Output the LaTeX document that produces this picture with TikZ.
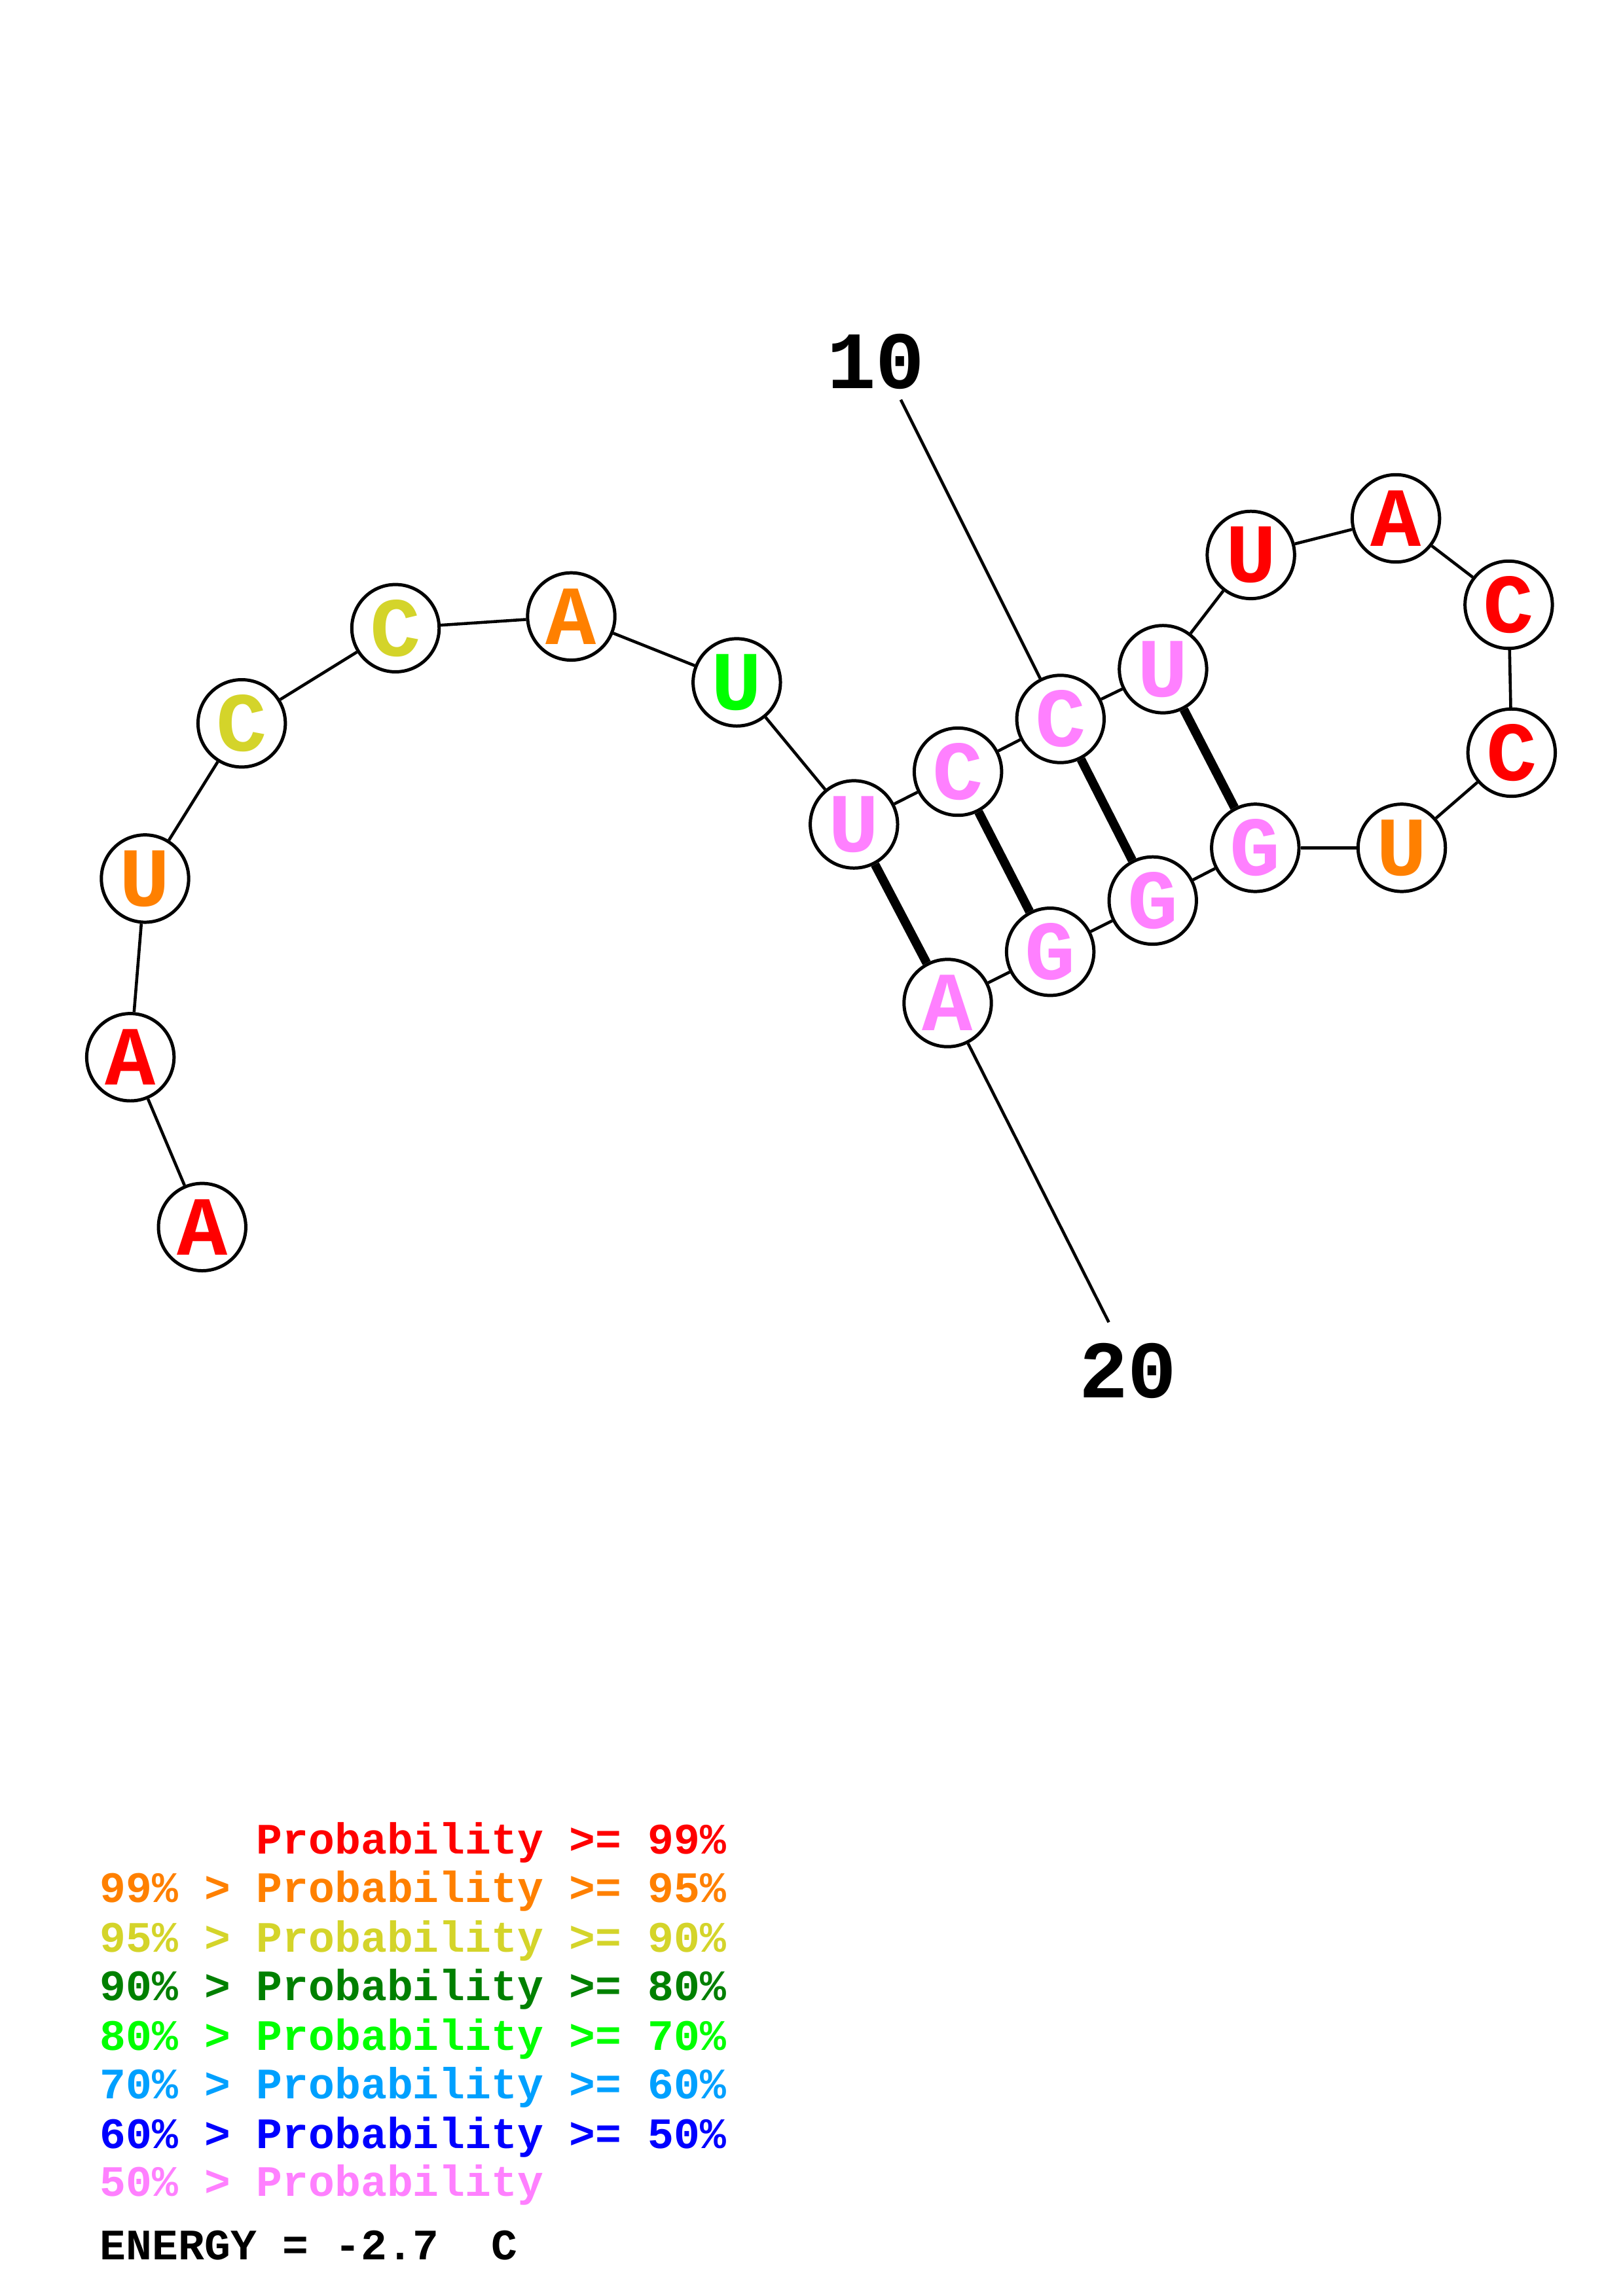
\documentclass[tikz,border=0pt]{standalone}
\usepackage{fontspec}
\setmonofont{Liberation Mono}
\usepackage{tikz}

\definecolor{pr99}{RGB}{255,0,0}
\definecolor{pr95}{RGB}{255,128,0}
\definecolor{pr90}{RGB}{212,212,42}
\definecolor{pr80}{RGB}{0,128,0}
\definecolor{pr70}{RGB}{0,255,0}
\definecolor{pr60}{RGB}{0,160,255}
\definecolor{pr50}{RGB}{0,0,255}
\definecolor{prlo}{RGB}{255,128,255}

\begin{document}
\begin{tikzpicture}[
    x=0.018953cm, y=-0.018953cm,
    base/.style={circle, draw, line width=1.2pt, fill=white, minimum size=1.13cm, inner sep=0pt,
        font=\ttfamily\bfseries\fontsize{31}{31}\selectfont},
    plain/.style={line width=1.1pt},
    pair/.style={line width=3.3pt},
    numlabel/.style={font=\ttfamily\bfseries\fontsize{30}{30}\selectfont},
    legend/.style={anchor=base west, inner sep=0pt, font=\ttfamily\bfseries\fontsize{16}{16}\selectfont}
]
    \useasboundingbox (0,0) rectangle (1108,1568);
    \node[base, text=pr99] (1) at (138, 838) {A};
    \node[base, text=pr99] (2) at (89, 722) {A};
    \node[base, text=pr95] (3) at (99, 600) {U};
    \node[base, text=pr90] (4) at (165, 494) {C};
    \node[base, text=pr90] (5) at (270, 429) {C};
    \node[base, text=pr95] (6) at (390, 421) {A};
    \node[base, text=pr70] (7) at (503, 466) {U};
    \node[base, text=prlo] (8) at (583, 563) {U};
    \node[base, text=prlo] (9) at (654, 527) {C};
    \node[base, text=prlo] (10) at (724, 491) {C};
    \node[base, text=prlo] (11) at (794, 457) {U};
    \node[base, text=pr99] (12) at (854, 379) {U};
    \node[base, text=pr99] (13) at (953, 354) {A};
    \node[base, text=pr99] (14) at (1030, 413) {C};
    \node[base, text=pr99] (15) at (1032, 514) {C};
    \node[base, text=pr95] (16) at (957, 579) {U};
    \node[base, text=prlo] (17) at (857, 579) {G};
    \node[base, text=prlo] (18) at (787, 615) {G};
    \node[base, text=prlo] (19) at (717, 650) {G};
    \node[base, text=prlo] (20) at (647, 685) {A};
    % backbone
    \foreach \a/\b in {1/2, 2/3, 3/4, 4/5, 5/6, 6/7, 7/8, 8/9, 9/10, 10/11, 11/12,
                       12/13, 13/14, 14/15, 15/16, 16/17, 17/18, 18/19, 19/20}
        \draw[plain] (\a) -- (\b);
    % base pairs
    \draw[pair] (8) -- (20);
    \draw[pair] (9) -- (19);
    \draw[pair] (10) -- (18);
    \draw[pair] (11) -- (17);
    % numbering
    \node[numlabel] (n10) at (598, 247) {10};
    \node[numlabel] (n20) at (770, 936) {20};
    \coordinate (t10) at (615, 273);
    \coordinate (t20) at (757, 903);
    \draw[plain] (t10) -- (10);
    \draw[plain] (20) -- (t20);
    % legend
    \node[legend, text=pr99] (k99) at (68, 1266) {\hphantom{99\% > }Probability >= 99\%};
    \node[legend, text=pr95] (k95) at (68, 1299) {99\% > Probability >= 95\%};
    \node[legend, text=pr90] (k90) at (68, 1333) {95\% > Probability >= 90\%};
    \node[legend, text=pr80] (k80) at (68, 1366) {90\% > Probability >= 80\%};
    \node[legend, text=pr70] (k70) at (68, 1400) {80\% > Probability >= 70\%};
    \node[legend, text=pr60] (k60) at (68, 1433) {70\% > Probability >= 60\%};
    \node[legend, text=pr50] (k50) at (68, 1467) {60\% > Probability >= 50\%};
    \node[legend, text=prlo] (klo) at (68, 1500) {50\% > Probability};
    \node[legend] (energy) at (68, 1543) {ENERGY = -2.7\ \ C};
\end{tikzpicture}
\end{document}
